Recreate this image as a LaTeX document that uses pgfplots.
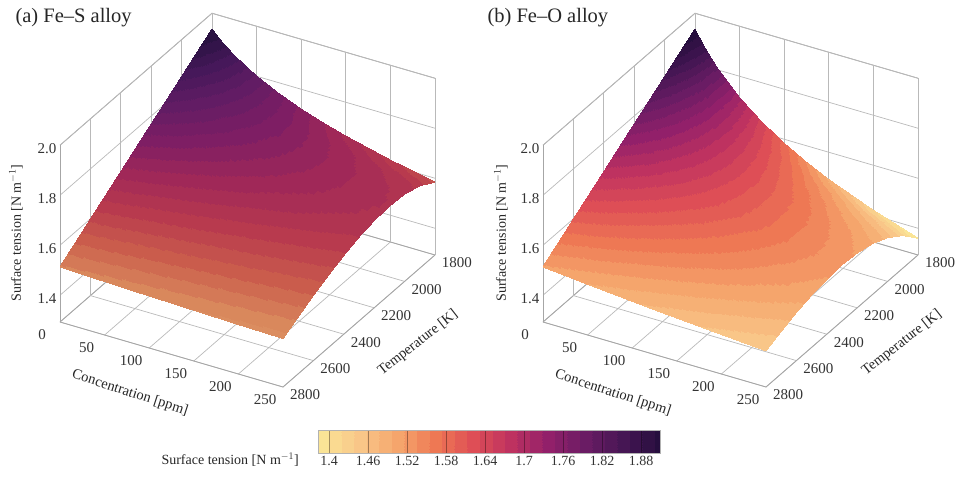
\documentclass[border=0pt]{standalone}
\usepackage{fontspec}
\setmainfont{Liberation Serif}
\usepackage{pgfplots}
\usepackage{pgfplotstable}
\usepgfplotslibrary{patchplots}
\pgfplotsset{compat=1.18}
\pgfplotstableread{
c T s
0 1800 1.936
10 1800 1.900
25 1800 1.856
50 1800 1.800
75 1800 1.756
100 1800 1.720
125 1800 1.690
150 1800 1.664
200 1800 1.620
250 1800 1.584
0 1900 1.894
10 1900 1.869
25 1900 1.838
50 1900 1.796
75 1900 1.762
100 1900 1.734
125 1900 1.709
150 1900 1.688
200 1900 1.653
250 1900 1.623
0 2000 1.851
10 2000 1.834
25 2000 1.811
50 2000 1.780
75 2000 1.754
100 2000 1.732
125 2000 1.713
150 2000 1.696
200 2000 1.666
250 2000 1.642
0 2100 1.809
10 2100 1.797
25 2100 1.781
50 2100 1.757
75 2100 1.737
100 2100 1.720
125 2100 1.705
150 2100 1.691
200 2100 1.667
250 2100 1.647
0 2200 1.767
10 2200 1.758
25 2200 1.747
50 2200 1.729
75 2200 1.714
100 2200 1.701
125 2200 1.689
150 2200 1.678
200 2200 1.659
250 2200 1.642
0 2300 1.725
10 2300 1.719
25 2300 1.711
50 2300 1.698
75 2300 1.686
100 2300 1.676
125 2300 1.667
150 2300 1.658
200 2300 1.643
250 2300 1.629
0 2400 1.682
10 2400 1.678
25 2400 1.672
50 2400 1.662
75 2400 1.654
100 2400 1.646
125 2400 1.638
150 2400 1.631
200 2400 1.619
250 2400 1.608
0 2500 1.640
10 2500 1.637
25 2500 1.633
50 2500 1.625
75 2500 1.619
100 2500 1.613
125 2500 1.607
150 2500 1.602
200 2500 1.592
250 2500 1.583
0 2600 1.598
10 2600 1.596
25 2600 1.593
50 2600 1.587
75 2600 1.582
100 2600 1.578
125 2600 1.573
150 2600 1.569
200 2600 1.561
250 2600 1.554
0 2700 1.555
10 2700 1.553
25 2700 1.551
50 2700 1.547
75 2700 1.543
100 2700 1.540
125 2700 1.536
150 2700 1.533
200 2700 1.527
250 2700 1.521
0 2800 1.513
10 2800 1.512
25 2800 1.510
50 2800 1.507
75 2800 1.504
100 2800 1.501
125 2800 1.499
150 2800 1.496
200 2800 1.491
250 2800 1.487
}\feS
\pgfplotstableread{
c T s
0 1800 1.936
10 1800 1.877
25 1800 1.806
50 1800 1.713
75 1800 1.642
100 1800 1.583
125 1800 1.533
150 1800 1.490
200 1800 1.419
250 1800 1.360
0 1900 1.894
10 1900 1.851
25 1900 1.797
50 1900 1.723
75 1900 1.665
100 1900 1.616
125 1900 1.574
150 1900 1.537
200 1900 1.475
250 1900 1.424
0 2000 1.851
10 2000 1.820
25 2000 1.778
50 2000 1.721
75 2000 1.673
100 2000 1.633
125 2000 1.597
150 2000 1.566
200 2000 1.512
250 2000 1.468
0 2100 1.809
10 2100 1.786
25 2100 1.754
50 2100 1.709
75 2100 1.671
100 2100 1.638
125 2100 1.608
150 2100 1.582
200 2100 1.536
250 2100 1.497
0 2200 1.767
10 2200 1.750
25 2200 1.726
50 2200 1.690
75 2200 1.660
100 2200 1.632
125 2200 1.608
150 2200 1.585
200 2200 1.546
250 2200 1.512
0 2300 1.725
10 2300 1.712
25 2300 1.694
50 2300 1.666
75 2300 1.642
100 2300 1.619
125 2300 1.599
150 2300 1.581
200 2300 1.547
250 2300 1.518
0 2400 1.682
10 2400 1.672
25 2400 1.658
50 2400 1.637
75 2400 1.617
100 2400 1.599
125 2400 1.582
150 2400 1.566
200 2400 1.538
250 2400 1.513
0 2500 1.640
10 2500 1.633
25 2500 1.622
50 2500 1.605
75 2500 1.589
100 2500 1.574
125 2500 1.561
150 2500 1.548
200 2500 1.523
250 2500 1.502
0 2600 1.598
10 2600 1.592
25 2600 1.585
50 2600 1.571
75 2600 1.558
100 2600 1.546
125 2600 1.535
150 2600 1.524
200 2600 1.504
250 2600 1.486
0 2700 1.555
10 2700 1.551
25 2700 1.544
50 2700 1.534
75 2700 1.523
100 2700 1.514
125 2700 1.504
150 2700 1.495
200 2700 1.478
250 2700 1.463
0 2800 1.513
10 2800 1.510
25 2800 1.505
50 2800 1.496
75 2800 1.488
100 2800 1.480
125 2800 1.472
150 2800 1.465
200 2800 1.451
250 2800 1.438
}\feO
\pgfplotsset{
  colormap={magmar}{rgb255=(250,228,150) rgb255=(249,198,136) rgb255=(245,165,108) rgb255=(238,120,84) rgb255=(222,78,86) rgb255=(190,50,96) rgb255=(146,32,106) rgb255=(106,28,100) rgb255=(70,22,84) rgb255=(38,14,62)},
  colormap={mutedr}{rgb255=(230,165,118) rgb255=(224,150,104) rgb255=(217,136,92) rgb255=(202,92,76) rgb255=(184,58,78) rgb255=(160,40,88) rgb255=(126,30,100) rgb255=(98,28,100) rgb255=(70,24,90) rgb255=(42,18,66)},
}
\pgfplotsset{
  colormap={magmad}{samples of colormap=(28 of magmar)},
  colormap={mutedd}{samples of colormap=(28 of mutedr)},
  panel/.style={
    disabledatascaling,
    x={(0.892pt,-0.26pt)}, y={(0.152pt,0.132pt)}, z={(0pt,250pt)},
    y dir=reverse,
    xmin=0,xmax=250,ymin=1800,ymax=2800,zmin=1.293,zmax=2,
    xtick={0,50,100,150,200,250},
    ytick={1800,2000,2200,2400,2600,2800},
    ztick={1.4,1.6,1.8,2.0},
    grid=major,
    grid style={gray!55,line width=0.7pt},
    axis line style={gray!70,line width=0.8pt},
    major tick length=0pt,
    tick label style={font=\fontsize{15}{15}\selectfont,text=black!80},
    /pgf/number format/assume math mode=true,
    /pgf/number format/1000 sep={},
    ticklabel style={/pgf/number format/fixed},
    z tick label style={/pgf/number format/fixed zerofill,/pgf/number format/precision=1,anchor=center,xshift=-13pt,yshift=-3pt},
    x tick label style={anchor=center,xshift=-18pt,yshift=-13pt},
    y tick label style={anchor=center,xshift=22pt,yshift=-8pt},
    point meta min=1.38,point meta max=1.92,
    z buffer=sort,
    clip=false,
    anchor=origin,
  },
}
\begin{document}
\begin{tikzpicture}[x=1pt,y=1pt]
\path[use as bounding box] (0,0) rectangle (962,477);
\begin{axis}[panel,colormap name=mutedd,at={(212pt,287pt)}]
\addplot3[surf,shader=interp,patch type=bilinear,colormap access=piecewise constant,mesh/cols=10] table[x=c,y=T,z=s] {\feS};
\end{axis}
\begin{axis}[panel,colormap name=magmad,at={(695pt,287pt)}]
\addplot3[surf,shader=interp,patch type=bilinear,colormap access=piecewise constant,mesh/cols=10] table[x=c,y=T,z=s] {\feO};
\end{axis}
\begin{axis}[colormap name=magmad,at={(318pt,24pt)},anchor=south west,scale only axis,width=342pt,height=23pt,
  xmin=1.383,xmax=1.909,ymin=0,ymax=1,ytick=\empty,
  xtick={1.4,1.46,1.52,1.58,1.64,1.7,1.76,1.82,1.88},
  xticklabels={1.4,1.46,1.52,1.58,1.64,1.7,1.76,1.82,1.88},
  tick align=inside,major tick length=23pt,xtick pos=bottom,
  tick style={black,opacity=0.35,line width=0.5pt},
  axis line style={gray!60},
  axis on top,
  tick label style={font=\fontsize{14}{14}\selectfont,text=black!80},
  point meta min=1.38,point meta max=1.92]
\addplot[surf,shader=interp,colormap access=piecewise constant,point meta=x,mesh/rows=2] coordinates {
(1.38,0) (1.65,0) (1.92,0)
(1.38,1) (1.65,1) (1.92,1)
};
\end{axis}
\node[anchor=west,font=\fontsize{14}{14}\selectfont,text=black!85] at (158,17.5) {Surface tension [N m$^{-1}$]};
\node[anchor=west,font=\fontsize{20.5}{20.5}\selectfont,text=black!85] at (12,459) {(a) Fe–S alloy};
\node[anchor=west,font=\fontsize{20.5}{20.5}\selectfont,text=black!85] at (484,459) {(b) Fe–O alloy};
\node[rotate=90,font=\fontsize{14}{14}\selectfont,text=black!85] at (16,244) {Surface tension [N m$^{-1}$]};
\node[rotate=90,font=\fontsize{14}{14}\selectfont,text=black!85] at (501,244) {Surface tension [N m$^{-1}$]};
\node[rotate=-18,font=\fontsize{14.5}{14.5}\selectfont,text=black!85] at (130,84) {Concentration [ppm]};
\node[rotate=-18,font=\fontsize{14.5}{14.5}\selectfont,text=black!85] at (613,84) {Concentration [ppm]};
\node[rotate=38,font=\fontsize{14.5}{14.5}\selectfont,text=black!85] at (418,134) {Temperature [K]};
\node[rotate=38,font=\fontsize{14.5}{14.5}\selectfont,text=black!85] at (902,134) {Temperature [K]};
\end{tikzpicture}
\end{document}
